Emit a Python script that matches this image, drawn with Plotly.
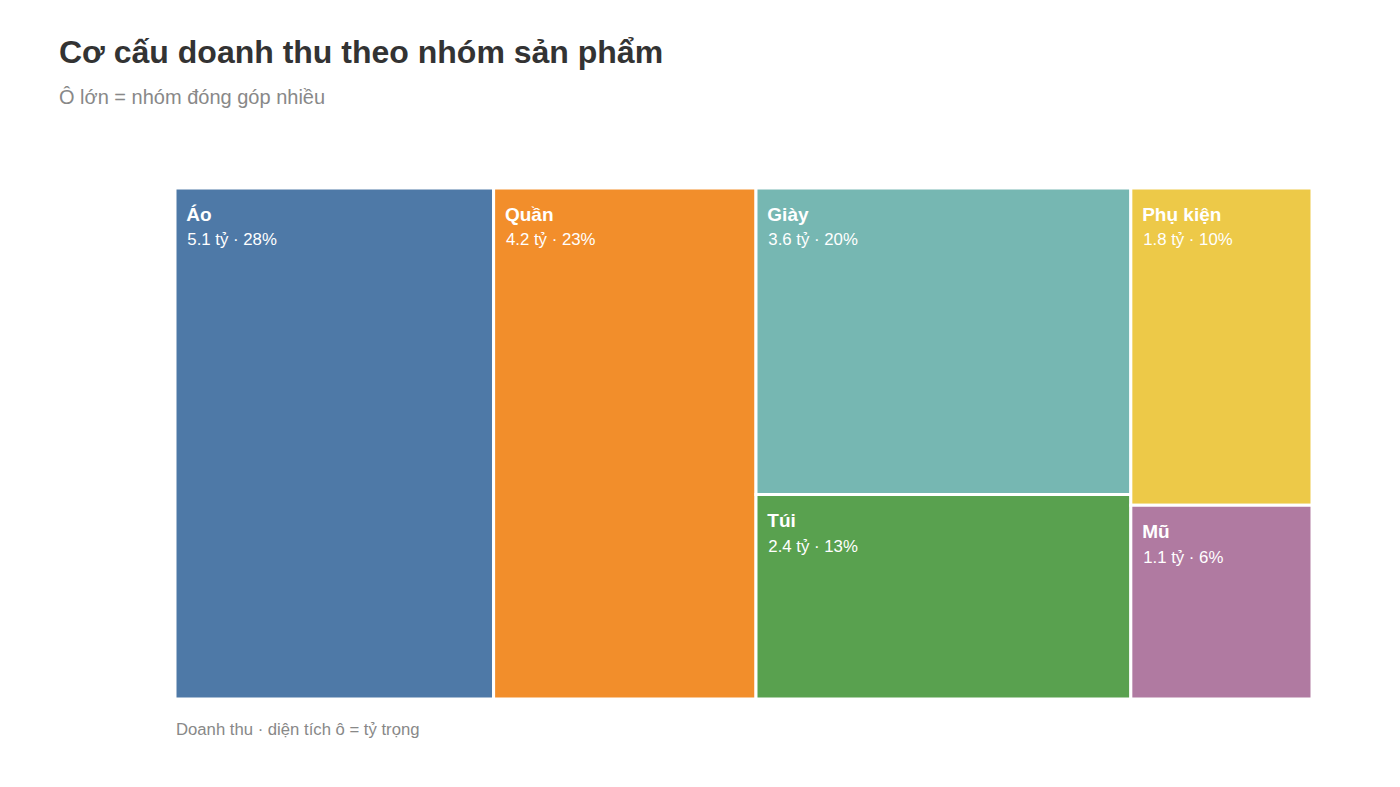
import plotly.graph_objects as go

categories = ["Áo", "Quần", "Giày", "Túi", "Phụ kiện", "Mũ"]
revenue_ty = [5.1, 4.2, 3.6, 2.4, 1.8, 1.1]
share_pct = [28, 23, 20, 13, 10, 6]
colors = ["#4E79A7", "#F28E2B", "#76B7B2", "#59A14F", "#EDC948", "#B07AA1"]

texts = [
    "<span style='font-size:6px'> </span><br>"
    f"<span style='font-size:15px'>&nbsp;&nbsp;</span><b>{c}</b><br>"
    f"<span style='font-size:16.8px'>&nbsp;&nbsp;{v} tỷ · {p}%</span>"
    for c, v, p in zip(categories, revenue_ty, share_pct)
]

fig = go.Figure(go.Treemap(
    labels=categories,
    parents=[""] * len(categories),
    values=revenue_ty,
    text=texts,
    texttemplate="%{text}",
    textposition="top left",
    textfont=dict(family="Liberation Sans, Arial, sans-serif", size=19, color="white"),
    marker=dict(colors=colors, line=dict(color="white", width=3),
                pad=dict(t=0, l=0, r=0, b=0)),
    tiling=dict(packing="squarify", pad=0),
    pathbar=dict(visible=False),
    sort=True,
    hoverinfo="skip",
    domain=dict(x=[175/1400, 1312/1400], y=[1-699/787, 1-188/787]),
))

fig.update_layout(
    width=1400, height=787,
    margin=dict(l=0, r=0, t=0, b=0),
    paper_bgcolor="white",
    font=dict(family="Liberation Sans, Arial, sans-serif"),
    annotations=[
        dict(text="<b>Cơ cấu doanh thu theo nhóm sản phẩm</b>", x=57/1400, y=1-52/787,
             xref="paper", yref="paper", xanchor="left", yanchor="middle", showarrow=False,
             font=dict(size=32, color="#333333")),
        dict(text="Ô lớn = nhóm đóng góp nhiều", x=57/1400, y=1-97/787,
             xref="paper", yref="paper", xanchor="left", yanchor="middle", showarrow=False,
             font=dict(size=20, color="#888888")),
        dict(text="Doanh thu · diện tích ô = tỷ trọng", x=174/1400, y=1-729/787,
             xref="paper", yref="paper", xanchor="left", yanchor="middle", showarrow=False,
             font=dict(size=16.7, color="#888888")),
    ],
)

fig.write_html("out.html")
